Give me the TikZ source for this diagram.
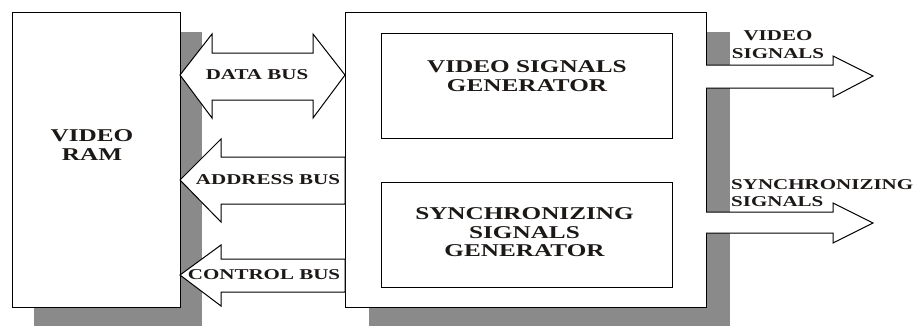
\documentclass[tikz,border=0pt]{standalone}
\usepackage{fontspec}
\setmainfont{Liberation Serif}[FakeStretch=1.4]
\usetikzlibrary{shadows,calc}
\definecolor{shadowgray}{RGB}{138,138,138}
\definecolor{inkc}{RGB}{28,24,22}
\begin{document}
\begin{tikzpicture}[x=1pt,y=-1pt,
  blockbox/.style={draw=black,line width=1pt,fill=white,inner sep=0pt,outer sep=0pt,anchor=north west},
  shadowed/.style={drop shadow={shadow xshift=22pt,shadow yshift=-20pt,fill=shadowgray,opacity=1}},
  bigtext/.style={text=inkc,font=\bfseries\fontsize{18}{19}\selectfont,align=center,inner sep=0pt},
  labeltext/.style={text=inkc,font=\bfseries\fontsize{15}{17.5}\selectfont,inner sep=0pt},
  busarrow/.style={draw=black,line width=1pt,fill=white,line join=miter}]
\useasboundingbox (0,0) rectangle (921,325);
% main blocks
\node[blockbox,shadowed,minimum width=168pt,minimum height=295pt] (ram) at (12,12) {};
\node[blockbox,drop shadow={shadow xshift=24pt,shadow yshift=-20pt,fill=shadowgray,opacity=1},minimum width=361pt,minimum height=295pt] (main) at (345,12) {};
\node[blockbox,minimum width=291pt,minimum height=105pt] (vsg) at (381,33) {};
\node[blockbox,minimum width=291pt,minimum height=105pt] (ssg) at (381,182) {};
% texts in blocks
\node[bigtext] (ramt) at ($(ram.center)+(-4,-14)$) {VIDEO\\RAM};
\node[bigtext] (vsgt) at ($(vsg.center)+(0.5,-9)$) {VIDEO SIGNALS\\GENERATOR};
\node[bigtext,font=\bfseries\fontsize{18}{18.5}\selectfont] (ssgt) at ($(ssg.center)+(-2,-2)$) {SYNCHRONIZING\\SIGNALS\\GENERATOR};
% data bus (double arrow)
\draw[busarrow] ($(ram.north east)+(0,63)$) -- ++(32,-41) -- ++(0,19) -- ($(main.north west)+(-32,41)$) -- ++(0,-19) -- ($(main.north west)+(0,63)$) -- ++(-32,43) -- ++(0,-18) -- ($(ram.north east)+(32,88)$) -- ++(0,18) -- cycle;
% address bus
\draw[busarrow] ($(ram.north east)+(0,168)$) -- ++(41,-41) -- ++(0,18) -- ($(main.north west)+(0,145)$) -- ++(0,47) -- ($(ram.north east)+(41,192)$) -- ++(0,18) -- cycle;
% control bus
\draw[busarrow] ($(ram.north east)+(0,263)$) -- ++(41,-30) -- ++(0,14) -- ($(main.north west)+(0,247)$) -- ++(0,33) -- ($(ram.north east)+(41,280)$) -- ++(0,14) -- cycle;
% output arrows
\draw[busarrow] ($(main.north east)+(0,53)$) -- ++(127,0) -- ++(0,-9) -- ($(main.north east)+(167,64)$) -- ++(-40,21) -- ++(0,-9) -- ($(main.north east)+(0,76)$);
\draw[busarrow] ($(main.north east)+(0,200)$) -- ++(127,0) -- ++(0,-9) -- ($(main.north east)+(167,211)$) -- ++(-40,20) -- ++(0,-10) -- ($(main.north east)+(0,221)$);
% bus labels
\node[labeltext] (dbl) at (257,75) {DATA BUS};
\node[labeltext] (abl) at (268,180) {ADDRESS BUS};
\node[labeltext] (cbl) at (264,275) {CONTROL BUS};
\node[labeltext,align=center] (vsl) at (778,44.5) {VIDEO\\SIGNALS};
\node[labeltext,align=left,anchor=west] (ssl) at (731,193) {SYNCHRONIZING\\SIGNALS};
\end{tikzpicture}
\end{document}
